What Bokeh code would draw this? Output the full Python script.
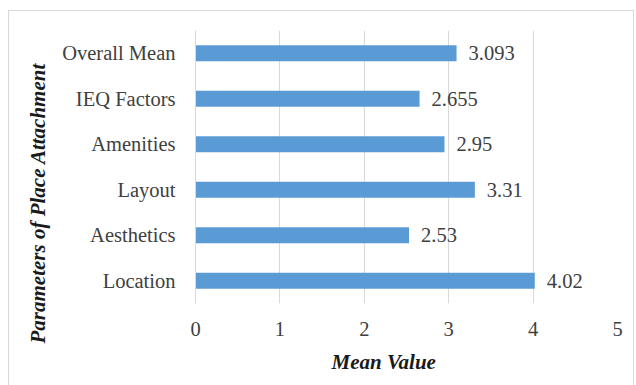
from bokeh.plotting import figure
from bokeh.models import ColumnDataSource, FactorRange, Range1d, FixedTicker, Title
from bokeh.core.properties import value
from bokeh.embed import file_html
from bokeh.resources import INLINE

categories = ["Location", "Aesthetics", "Layout", "Amenities", "IEQ Factors", "Overall Mean"]
means = [4.02, 2.53, 3.31, 2.95, 2.655, 3.093]
value_labels = ["4.02", "2.53", "3.31", "2.95", "2.655", "3.093"]
x_ticks = [0, 1, 2, 3, 4, 5]

FONT = "Liberation Serif"
TXT = "#404040"

src = ColumnDataSource(dict(cat=categories, val=means, lab=value_labels))

W, H = 624, 376
p = figure(width=W, height=H, output_backend="svg", toolbar_location=None,
           y_range=FactorRange(*categories, range_padding=0),
           x_range=Range1d(0, 5))
p.margin = (11, 0, 0, 9)
p.styles = {"outline": "1px solid #d9d9d9"}
p.min_border_left = 186
p.min_border_right = 16
p.min_border_top = 19
p.min_border_bottom = 84
p.outline_line_color = None
p.background_fill_color = "white"
p.border_fill_color = "white"

p.hbar(y="cat", right="val", left=0, height=0.35, source=src,
       fill_color="#5B9BD5", line_color=None)
p.text(x="val", y="cat", text="lab", source=src, x_offset=12,
       text_baseline="middle", text_align="left",
       text_font=value(FONT), text_font_size="20.5px", text_color=TXT)

p.xaxis.ticker = FixedTicker(ticks=x_ticks)
p.xaxis.axis_line_color = None
p.xaxis.major_tick_line_color = None
p.xaxis.minor_tick_line_color = None
p.xaxis.major_label_text_font = FONT
p.xaxis.major_label_text_font_size = "20.5px"
p.xaxis.major_label_text_color = TXT
p.xaxis.major_label_standoff = 12

p.yaxis.axis_line_color = "#d9d9d9"
p.yaxis.major_tick_line_color = None
p.yaxis.minor_tick_line_color = None
p.yaxis.major_label_text_font = FONT
p.yaxis.major_label_text_font_size = "20.5px"
p.yaxis.major_label_text_color = TXT
p.yaxis.major_label_standoff = 14

p.xgrid.grid_line_color = "#d9d9d9"
p.ygrid.grid_line_color = None

p.add_layout(Title(text="Mean Value", align="left", offset=136, standoff=19,
                   text_font=FONT, text_font_size="21px",
                   text_font_style="bold italic", text_color="#1a1a1a"), "below")
p.add_layout(Title(text="Parameters of Place Attachment", align="left", offset=-40,
                   standoff=19, text_font=FONT, text_font_size="21px",
                   text_font_style="bold italic", text_color="#1a1a1a"), "left")

open("out.html", "w").write(file_html(p, INLINE))
